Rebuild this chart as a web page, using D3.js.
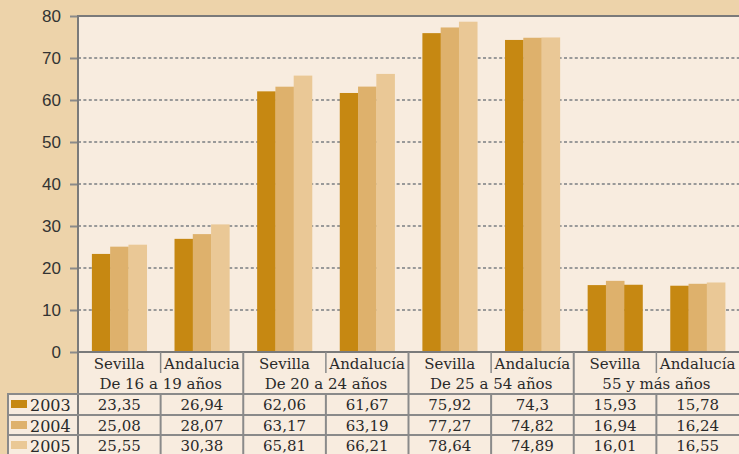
<!DOCTYPE html>
<html><head><meta charset="utf-8">
<script src="https://cdn.jsdelivr.net/npm/d3@7"></script>
<style>
html,body{margin:0;padding:0;background:#EDD3AA;}
svg{display:block;}
</style></head>
<body>
<svg id="chart" width="739" height="454"></svg>
<script>
const ageGroups = ["De 16 a 19 años","De 20 a 24 años","De 25 a 54 años","55 y más años"];
const regions = [["Sevilla","Andalucia"],["Sevilla","Andalucía"],["Sevilla","Andalucía"],["Sevilla","Andalucía"]];
const years = ["2003","2004","2005"];
const values2003 = [23.35, 26.94, 62.06, 61.67, 75.92, 74.3, 15.93, 15.78];
const values2004 = [25.08, 28.07, 63.17, 63.19, 77.27, 74.82, 16.94, 16.24];
const values2005 = [25.55, 30.38, 65.81, 66.21, 78.64, 74.89, 16.01, 16.55];
const yTicks = [0,10,20,30,40,50,60,70,80];
const series = [values2003, values2004, values2005];
const colors = ["#C68812","#DEB16C","#EAC896"];
// bar drawn in the 2003 colour in the original (Sevilla, 55+, 2005)
const colorOverride = {"6-2":"#C68812"};

(function(){
const svg = d3.select("#chart");
const W = 739, H = 454;
const mLeft = 78, mTop = 16, zeroY = 352, mRight = 739;
const lineCol = "#7a7a7a", gridCol = "#8a8a8a";
const serif = "'DejaVu Serif', serif";

const cols = [];
ageGroups.forEach((g,i)=>regions[i].forEach((r,j)=>cols.push({g:i,label:r,idx:i*2+j})));

const x = d3.scaleBand().domain(d3.range(cols.length)).range([mLeft, mRight]);
const xi = d3.scaleBand().domain(d3.range(years.length)).range([0, x.bandwidth()]).paddingOuter(0.76).paddingInner(0);
const y = d3.scaleLinear().domain([0,80]).range([zeroY, mTop]);

svg.append("rect").attr("x",mLeft).attr("y",mTop).attr("width",mRight-mLeft).attr("height",H-mTop).attr("fill","#F8ECDF");
svg.append("rect").attr("x",8).attr("y",394).attr("width",mLeft-8).attr("height",H-394).attr("fill","#F8ECDF");

svg.append("g").selectAll("line").data(yTicks.filter(t=>t>0&&t<80)).join("line")
  .attr("x1",mLeft).attr("x2",mRight).attr("y1",d=>y(d)).attr("y2",d=>y(d))
  .attr("stroke","#999").attr("stroke-width",2).attr("stroke-dasharray","3,2.4");

const bars = svg.append("g");
cols.forEach((c,ci)=>{
  series.forEach((s,si)=>{
    bars.append("rect")
      .attr("x", x(ci)+xi(si)).attr("width", xi.bandwidth()+0.3)
      .attr("y", y(s[ci])).attr("height", zeroY - y(s[ci]))
      .attr("fill", colorOverride[ci+"-"+si] || colors[si]);
  });
});

svg.append("line").attr("x1",mLeft).attr("x2",mRight).attr("y1",mTop).attr("y2",mTop).attr("stroke",lineCol).attr("stroke-width",2);

const yAxis = d3.axisLeft(y).tickValues(yTicks).tickSize(8).tickPadding(9).tickFormat(d3.format("d"));
const ya = svg.append("g").attr("transform",`translate(${mLeft},0)`).call(yAxis);
ya.select(".domain").remove();
ya.selectAll(".tick line").attr("stroke","#8a8a8a").attr("stroke-width",2);
ya.selectAll(".tick text").attr("font-family","'Liberation Sans', Arial, sans-serif").attr("font-size",17).attr("fill","#333");
svg.append("line").attr("x1",mLeft).attr("x2",mLeft).attr("y1",mTop-1).attr("y2",H).attr("stroke",lineCol).attr("stroke-width",2);

const tl = svg.append("g");
tl.append("line").attr("x1",mLeft).attr("x2",mRight).attr("y1",zeroY).attr("y2",zeroY).attr("stroke",lineCol).attr("stroke-width",2);
[394,415,435].forEach(yy=>tl.append("line").attr("x1",8).attr("x2",mRight).attr("y1",yy).attr("y2",yy).attr("stroke",gridCol).attr("stroke-width",2));
tl.append("line").attr("x1",8).attr("x2",8).attr("y1",393).attr("y2",H).attr("stroke",gridCol).attr("stroke-width",2);
cols.forEach((c,ci)=>{
  if(ci===0) return;
  const xx = x(ci);
  if(ci%2===0){
    tl.append("line").attr("x1",xx).attr("x2",xx).attr("y1",zeroY).attr("y2",H).attr("stroke",gridCol).attr("stroke-width",2);
  } else {
    tl.append("line").attr("x1",xx).attr("x2",xx).attr("y1",zeroY).attr("y2",373).attr("stroke",gridCol).attr("stroke-width",1.5);
    tl.append("line").attr("x1",xx).attr("x2",xx).attr("y1",394).attr("y2",H).attr("stroke",gridCol).attr("stroke-width",2);
  }
});

const txt = svg.append("g").attr("font-family",serif).attr("fill","#2a2a2a").attr("text-anchor","middle").attr("font-size",15);
cols.forEach((c,ci)=>{
  txt.append("text").attr("x",x(ci)+x.bandwidth()/2).attr("y",369).text(c.label);
  series.forEach((s,si)=>{
    txt.append("text").attr("x",x(ci)+x.bandwidth()/2).attr("y",[410,431,451][si])
      .text(String(s[ci]).replace(".",","));
  });
});
ageGroups.forEach((g,i)=>{
  txt.append("text").attr("x",x(i*2)+x.bandwidth()).attr("y",389).text(g);
});

years.forEach((yr,si)=>{
  const cy = [404,425,445][si];
  svg.append("rect").attr("x",11).attr("y",cy-4).attr("width",16).attr("height",8).attr("fill",colors[si]);
  svg.append("text").attr("x",30).attr("y",cy+7).attr("font-family",serif).attr("font-size",16).attr("fill","#2a2a2a").text(yr);
});
})();
</script>
</body></html>
